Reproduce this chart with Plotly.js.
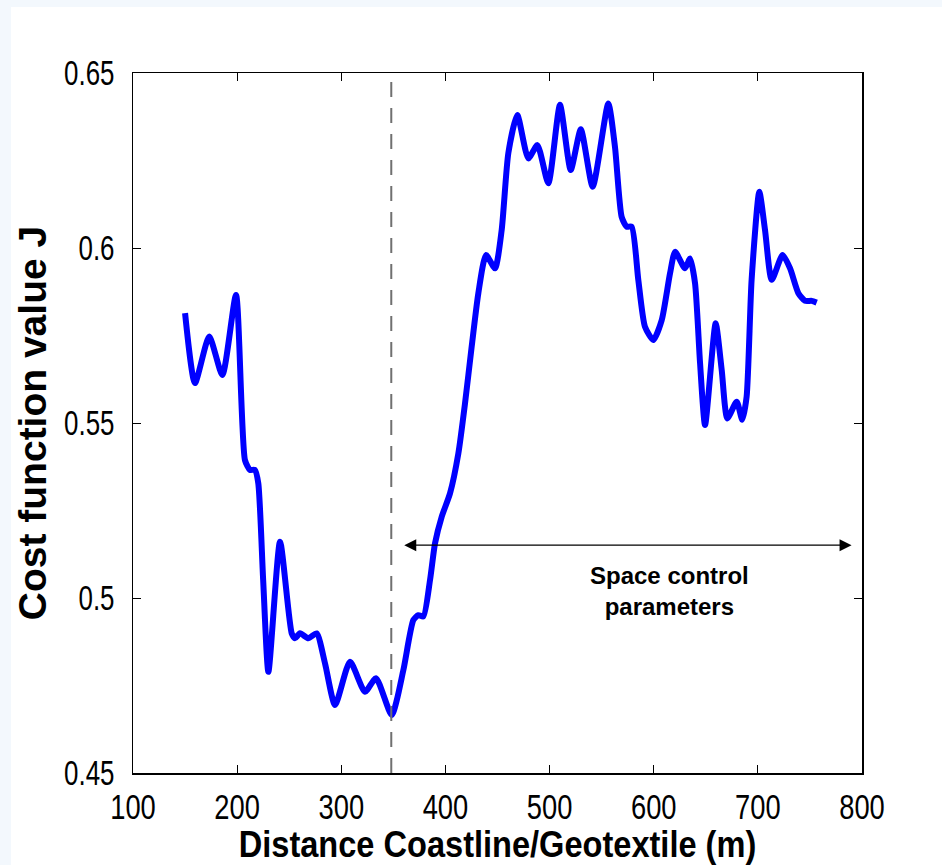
<!DOCTYPE html>
<html>
<head>
<meta charset="utf-8">
<script src="https://cdn.plot.ly/plotly-3.0.1.min.js"></script>
<style>
  html, body { margin: 0; padding: 0; width: 942px; height: 865px; background: #f3f8fd; overflow: hidden; }
  #plot { position: absolute; left: 11px; top: 7px; width: 931px; height: 858px; background: #ffffff; }
</style>
</head>
<body>
<div id="plot"></div>
<script>
// Distance coastline/geotextile (m)
const distance = [150, 159.5, 173.2, 185.8, 198.9, 207.5, 212.3, 217, 220.3, 225, 230, 241.2, 252.4, 255.6, 260.4, 268.3, 276.3, 284.4, 294, 308.4, 322.8, 333.3, 348.4, 359.6, 369.2, 374, 378.8, 385.2, 390, 396.4, 404.4, 412.4, 418.8, 425.2, 431.6, 439, 447.6, 454, 460.4, 469, 479.6, 488.3, 498.8, 510, 520.3, 530, 541.4, 556.4, 562.8, 569.2, 574, 578.8, 585.2, 591.6, 599.6, 607.7, 615.7, 620.5, 630, 634.9, 639.7, 644.5, 649.3, 659.5, 665.3, 670.7, 679.7, 685, 689.2, 694, 701.4, 706.9, 713.3, 723.8, 730.9, 738.9, 745.3, 751.7, 756.5];
// Cost function value J
const costJ = [0.5814, 0.5614, 0.5747, 0.5637, 0.5866, 0.5394, 0.5366, 0.5366, 0.5328, 0.505, 0.4789, 0.5161, 0.4899, 0.4885, 0.4899, 0.4885, 0.4899, 0.4813, 0.4694, 0.4818, 0.4732, 0.4771, 0.4666, 0.4794, 0.4937, 0.4951, 0.4947, 0.5051, 0.5156, 0.5232, 0.5299, 0.5413, 0.5556, 0.5718, 0.5871, 0.5980, 0.5942, 0.6051, 0.6271, 0.6380, 0.6256, 0.6294, 0.6185, 0.6409, 0.6223, 0.6339, 0.6175, 0.6413, 0.6289, 0.6089, 0.6061, 0.6061, 0.5909, 0.5775, 0.5737, 0.5794, 0.5928, 0.5989, 0.5942, 0.5970, 0.5899, 0.5671, 0.5494, 0.5785, 0.5651, 0.5513, 0.5561, 0.5509, 0.5575, 0.5909, 0.6161, 0.6051, 0.5909, 0.5980, 0.5942, 0.5871, 0.5849, 0.5849, 0.5844];

const xTickVals = [100, 200, 300, 400, 500, 600, 700, 800];
const xTickText = ['100', '200', '300', '400', '500', '600', '700', '800'];
const yTickVals = [0.45, 0.5, 0.55, 0.6, 0.65];
const yTickText = ['0.45', '0.5', '0.55', '0.6', '0.65'];

const boundaryX = 348;          // dashed vertical line
const spanStart = 359;          // arrow span
const spanEnd = 790;
const spanY = 0.5151;
const labelX = 615.6;
const labelY = 0.502;
const labelText = 'Space control<br>parameters';

const sans = '"Liberation Sans", Arial, Helvetica, sans-serif';

const trace = {
  x: distance, y: costJ, type: 'scatter', mode: 'lines',
  line: { color: '#0000ff', width: 6, shape: 'spline', smoothing: 0.6 },
  hoverinfo: 'skip', showlegend: false
};

const layout = {
  width: 931, height: 858,
  margin: { l: 122, r: 80, t: 66, b: 92 },
  paper_bgcolor: '#ffffff', plot_bgcolor: '#ffffff',
  showlegend: false,
  xaxis: {
    range: [100, 800], tickvals: xTickVals, ticktext: xTickText,
    showline: true, mirror: 'ticks', linecolor: '#000', linewidth: 1.5,
    ticks: 'inside', ticklen: 8, tickcolor: '#000', tickwidth: 1,
    showgrid: false, zeroline: false, ticklabelstandoff: 2,
    tickfont: { family: sans, size: 35, color: '#000' },
    title: { text: '<b>Distance Coastline/Geotextile (m)</b>', font: { family: sans, size: 37, color: '#000' }, standoff: 6 }
  },
  yaxis: {
    range: [0.45, 0.65], tickvals: yTickVals, ticktext: yTickText,
    showline: true, mirror: 'ticks', linecolor: '#000', linewidth: 1.5,
    ticks: 'inside', ticklen: 8, tickcolor: '#000', tickwidth: 1,
    showgrid: false, zeroline: false, ticklabelstandoff: 10,
    tickfont: { family: sans, size: 35, color: '#000' },
    title: { text: '<b>Cost function value J</b>', font: { family: sans, size: 39, color: '#000' }, standoff: 14 }
  },
  shapes: [{
    type: 'line', xref: 'x', yref: 'paper', x0: boundaryX, x1: boundaryX, y0: 0, y1: 1,
    line: { color: '#707070', width: 2, dash: '15px,11px' }
  }],
  annotations: [
    {
      x: spanEnd, y: spanY, ax: spanStart, ay: spanY, axref: 'x', ayref: 'y', xref: 'x', yref: 'y',
      text: '', showarrow: true, arrowside: 'end+start', arrowhead: 2, arrowsize: 2, arrowwidth: 1.2, arrowcolor: '#000'
    },
    {
      x: labelX, y: labelY, xref: 'x', yref: 'y', text: '<b>' + labelText + '</b>', showarrow: false,
      font: { family: sans, size: 24, color: '#000' }, align: 'center'
    }
  ]
};

// The reference's axis texts are horizontally condensed; compress glyphs via SVG textLength.
function condense(selector, factor) {
  document.querySelectorAll(selector).forEach(function (t) {
    const w = t.getComputedTextLength();
    if (w > 0) {
      t.setAttribute('textLength', (w * factor).toFixed(2));
      t.setAttribute('lengthAdjust', 'spacingAndGlyphs');
    }
  });
}

Plotly.newPlot('plot', [trace], layout, { displayModeBar: false, staticPlot: true }).then(function () {
  condense('.xtick text', 0.78);
  condense('.ytick text', 0.74);
  condense('.xtitle', 0.88);
});
</script>
</body>
</html>
